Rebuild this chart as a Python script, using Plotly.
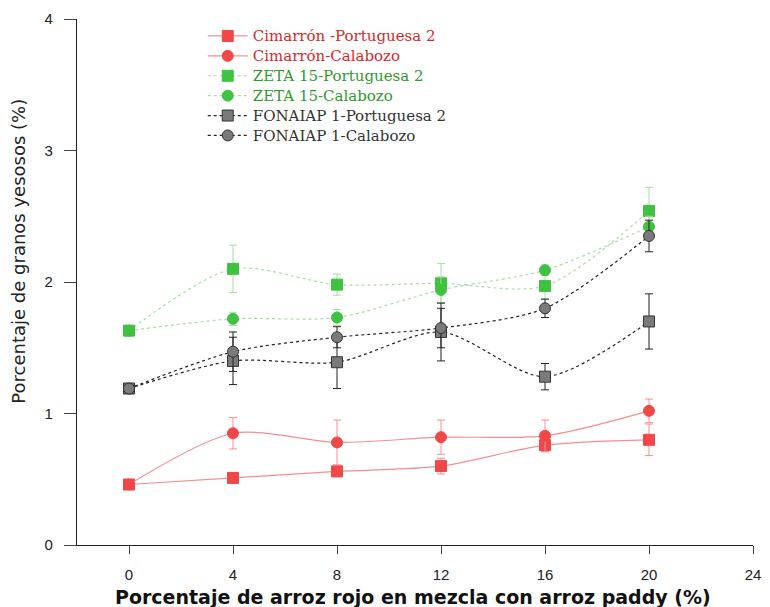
import plotly.graph_objects as go

x_vals = [0, 4, 8, 12, 16, 20]

names = ["Cimarrón -Portuguesa 2", "Cimarrón-Calabozo", "ZETA 15-Portuguesa 2",
         "ZETA 15-Calabozo", "FONAIAP 1-Portuguesa 2", "FONAIAP 1-Calabozo"]

cim_port = [0.46, 0.51, 0.56, 0.60, 0.76, 0.80]
cim_port_err = [0.0, 0.03, 0.04, 0.06, 0.05, 0.12]
cim_cal = [0.46, 0.85, 0.78, 0.82, 0.83, 1.02]
cim_cal_err = [0.0, 0.12, 0.17, 0.13, 0.12, 0.09]
zeta_port = [1.63, 2.10, 1.98, 1.99, 1.97, 2.54]
zeta_port_err = [0.0, 0.18, 0.08, 0.15, 0.10, 0.18]
zeta_cal = [1.63, 1.72, 1.73, 1.94, 2.09, 2.42]
zeta_cal_err = [0.0, 0.05, 0.06, 0.10, 0.04, 0.08]
fon_port = [1.19, 1.40, 1.39, 1.62, 1.28, 1.70]
fon_port_err = [0.0, 0.18, 0.20, 0.22, 0.10, 0.21]
fon_cal = [1.19, 1.47, 1.58, 1.65, 1.80, 2.35]
fon_cal_err = [0.0, 0.15, 0.08, 0.15, 0.07, 0.12]

x_ticks = [0, 4, 8, 12, 16, 20, 24]
y_ticks = [0, 1, 2, 3, 4]

series = [
    (names[0], cim_port, cim_port_err, "square", "#f04848", "#f29090", "solid", "#d42a2a"),
    (names[1], cim_cal, cim_cal_err, "circle", "#f04848", "#f29090", "solid", "#d42a2a"),
    (names[2], zeta_port, zeta_port_err, "square", "#3fc23f", "#a8dca8", "dot", "#2e9a2e"),
    (names[3], zeta_cal, zeta_cal_err, "circle", "#3fc23f", "#a8dca8", "dot", "#2e9a2e"),
    (names[4], fon_port, fon_port_err, "square", "#7a7a7a", "#222222", "dot", "#333333"),
    (names[5], fon_cal, fon_cal_err, "circle", "#7a7a7a", "#222222", "dot", "#333333"),
]

fig = go.Figure()
for name, yv, err, sym, mcol, lcol, dash, tcol in series:
    fig.add_trace(go.Scatter(
        x=x_vals, y=yv, mode="lines+markers",
        name=f"<span style='color:{tcol};font-size:15px'>{name}</span>",
        line=dict(color=lcol, width=1.2, dash=dash, shape="spline", smoothing=0.8),
        marker=dict(symbol=sym, size=11, color=mcol,
                    line=dict(color="#333" if mcol == "#7a7a7a" else mcol, width=1)),
        error_y=dict(type="data", array=err, color=lcol, thickness=1, width=4),
    ))

fig.update_layout(
    width=770, height=607,
    paper_bgcolor="white", plot_bgcolor="white",
    margin=dict(l=77, r=9, t=19, b=62),
    showlegend=True,
    legend=dict(x=0.186, y=0.9962, xanchor="left", yanchor="top",
                bgcolor="rgba(0,0,0,0)", tracegroupgap=0,
                font=dict(family="DejaVu Serif", size=13, color="#333"),
                itemwidth=40),
    font=dict(family="Liberation Sans", size=14, color="#222"),
)
fig.update_xaxes(range=[-2, 24], tickvals=x_ticks, ticktext=[str(v) for v in x_ticks],
                 showgrid=False, zeroline=False, showline=True, linecolor="#222", linewidth=1.3,
                 ticks="outside", ticklen=8, tickcolor="#444", ticklabelstandoff=8,
                 tickfont=dict(family="Liberation Sans", size=15, color="#222"))
fig.update_yaxes(range=[0, 4], tickvals=y_ticks, ticktext=[str(v) for v in y_ticks],
                 showgrid=False, zeroline=False, showline=True, linecolor="#222", linewidth=1.3,
                 ticks="outside", ticklen=12, tickcolor="#444", ticklabelstandoff=8,
                 tickfont=dict(family="Liberation Sans", size=15, color="#222"))

fig.add_annotation(text="<b>Porcentaje de arroz rojo en mezcla con arroz paddy (%)</b>",
                   xref="paper", yref="paper", x=0.497, y=-0.0989, yanchor="middle",
                   showarrow=False, font=dict(family="DejaVu Sans", size=19, color="#111"))
fig.add_annotation(text="Porcentaje de granos yesosos (%)",
                   xref="paper", yref="paper", x=-0.0863, y=0.559, textangle=-90,
                   xanchor="center", yanchor="middle", showarrow=False,
                   font=dict(family="DejaVu Sans", size=18, color="#222"))

fig.write_html("out.html", config={"displayModeBar": False},
               post_script="document.body.style.margin='0';document.body.style.overflow='hidden';")
